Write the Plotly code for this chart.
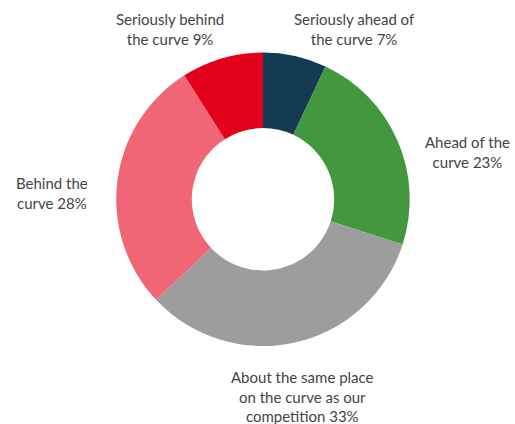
import plotly.graph_objects as go

labels = [
    "Seriously ahead of the curve",
    "Ahead of the curve",
    "About the same place on the curve as our competition",
    "Behind the curve",
    "Seriously behind the curve",
]
values = [7, 23, 33, 28, 9]
colors = ["#133b51", "#43983f", "#9d9d9d", "#f06676", "#e2001a"]

# wrapped label text as it appears around the donut
label_text = [
    "Seriously ahead of<br>the curve 7%",
    "Ahead of the<br>curve 23%",
    "About the same place<br>on the curve as our<br>competition 33%",
    "Behind the<br>curve 28%",
    "Seriously behind<br>the curve 9%",
]
# label centres in pixels (x, y from top)
label_pos = [(354, 29), (467, 152), (302, 396), (52, 193), (170, 29)]

W, H = 515, 424

fig = go.Figure(go.Pie(
    labels=labels,
    values=values,
    hole=0.485,
    sort=False,
    direction="clockwise",
    rotation=0,
    marker=dict(colors=colors, line=dict(width=0)),
    textinfo="none",
    hoverinfo="label+percent",
    domain=dict(x=[116 / W, 410 / W], y=[(H - 346) / H, (H - 52.5) / H]),
    showlegend=False,
))

for txt, (px_, py_) in zip(label_text, label_pos):
    fig.add_annotation(
        x=px_ / W, y=1 - py_ / H, xref="paper", yref="paper",
        xanchor="center", yanchor="middle",
        text=txt, showarrow=False, align="center",
        font=dict(family="Lato", size=15, color="#444444"),
    )

fig.update_layout(
    width=W, height=H,
    margin=dict(l=0, r=0, t=0, b=0),
    paper_bgcolor="white",
    plot_bgcolor="white",
)

# drop the default page margin so the figure fills the window exactly
fig.write_html(
    "out.html",
    config={"displayModeBar": False},
    post_script="document.body.style.margin='0';document.body.style.overflow='hidden';",
)
